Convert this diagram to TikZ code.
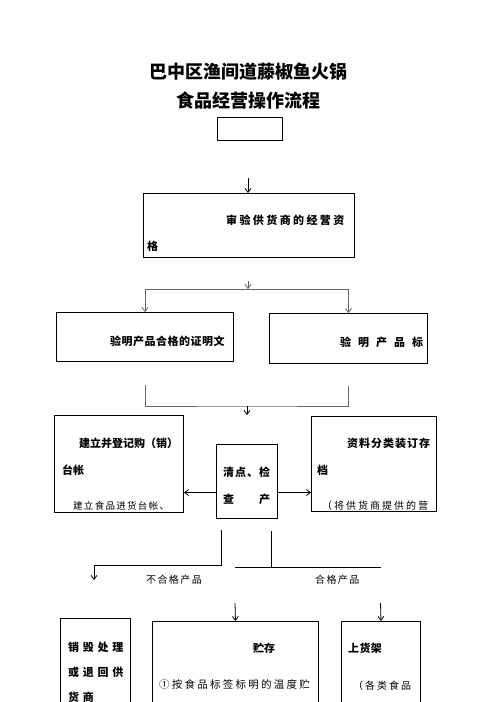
\documentclass[tikz,border=0pt]{standalone}
\usepackage{fontspec}
\usetikzlibrary{arrows.meta}
\newfontfamily\cjk{Noto Sans CJK SC}

\makeatletter
\newcommand\spaced[2]{\def\sp@gap{\hspace{#1pt}}\@tfor\sp@c:=#2\do{\sp@c\sp@gap}}
\makeatother

\tikzset{
  box/.style = {draw, line width = 1pt, inner sep = 0pt, anchor = north west},
  flow/.style = {line width = 0.8pt, -{Straight Barb[length = 4pt, width = 6pt]}},
  link/.style = {line width = 0.8pt},
  soft/.style = {black!60},
  title/.style = {inner sep = 0pt, font = \cjk\bfseries\fontsize{18}{20}\selectfont},
  label/.style = {anchor = west, inner sep = 0pt, font = \cjk\bfseries\fontsize{11}{13}\selectfont},
  note/.style = {anchor = west, inner sep = 0pt, font = \cjk\fontsize{10}{12}\selectfont},
}

\begin{document}
\begin{tikzpicture}[x = 1pt, y = -1pt]
    \useasboundingbox (0, 0) rectangle (496, 702);
    \clip (0, 0) rectangle (496, 702);

    \node[title] (t1) at (248, 72) {巴中区渔间道藤椒鱼火锅};
    \node[title] (t2) at (248, 101) {食品经营操作流程};

    % boxes
    \node[box, minimum width = 65pt, minimum height = 23pt] (b0) at (217, 117) {};
    \node[box, minimum width = 211pt, minimum height = 64pt] (b1) at (143, 193) {};
    \node[box, minimum width = 177pt, minimum height = 49pt] (b2l) at (56, 312) {};
    \node[box, minimum width = 158pt, minimum height = 50pt] (b2r) at (269, 313) {};
    \node[box, minimum width = 129pt, minimum height = 97pt] (b3l) at (54, 415) {};
    \node[box, minimum width = 61pt, minimum height = 74pt] (b3c) at (216, 444) {};
    \node[box, minimum width = 125pt, minimum height = 95pt] (b3r) at (311, 416) {};
    \node[box, minimum width = 70pt, minimum height = 120pt] (b4l) at (60, 618) {};
    \node[box, minimum width = 166pt, minimum height = 120pt] (b4c) at (152, 621) {};
    \node[box, minimum width = 79pt, minimum height = 120pt] (b4r) at (341, 621) {};

    % texts
    \node[label] (l1a) at (226, 220) {\spaced{2.4}{审验供货商的经营资}};
    \node[label] (l1b) at (147, 246) {格};
    \node[label] (l2l) at (110, 341) {\spaced{0.5}{验明产品合格的证明文}};
    \node[label] (l2r) at (340, 342) {\spaced{7}{验明产品标}};
    \node[label] (l3la) at (79, 443) {建立并登记购（销）};
    \node[label] (l3lb) at (62, 470) {台帐};
    \node[note, font = \cjk\fontsize{9.5}{11}\selectfont] (n3l) at (73, 506) {\spaced{1.3}{建立食品进货台帐、}};
    \node[label] (l3ca) at (223, 472) {\spaced{1}{清点、检}};
    \node[label] (l3cb) at (223, 499) {\spaced{1}{查　　产}};
    \node[label] (l3ra) at (347, 443) {\spaced{1}{资料分类装订存}};
    \node[label] (l3rb) at (317, 470) {档};
    \node[note] (n3r) at (322, 506) {\spaced{2}{（将供货商提供的营}};
    \node[note] (bad) at (146, 580) {\spaced{1.4}{不合格产品}};
    \node[note] (good) at (315, 580) {\spaced{1.4}{合格产品}};
    \node[label] (l4la) at (68, 647) {\spaced{3.7}{销毁处理}};
    \node[label] (l4lb) at (68, 672) {\spaced{3.7}{或退回供}};
    \node[label] (l4lc) at (68, 697) {\spaced{3.7}{货商}};
    \node[label] (l4ca) at (253, 648) {贮存};
    \node[note, font = \cjk\fontsize{10.5}{12}\selectfont] (n4c) at (159, 685) {\spaced{2.25}{①按食品标签标明的温度贮}};
    \node[label] (l4ra) at (348, 648) {\spaced{0.3}{上货架}};
    \node[note] (n4r) at (353, 686) {\spaced{2}{（各类食品}};

    % connectors
    \coordinate (s1) at (248, 178);
    \draw[flow] (s1) -- (s1 |- b1.north);

    \coordinate (s2) at (248, 281);
    \coordinate (j2) at (248, 289);
    \draw[flow, soft] (s2) -- (j2);
    \draw[flow, soft] (j2) -| (b2l.north);
    \draw[flow, soft] (j2) -| (b2r.north);

    \coordinate (c3l) at (145, 385);
    \coordinate (c3r) at (348, 386);
    \coordinate (j3) at (247, 406);
    \draw[link, soft] (c3l) |- (j3) -| (c3r);
    \draw[flow] (j3) -- (j3 |- b3l.north);

    \draw[flow] ([yshift = -11pt]b3c.west) coordinate (m3l) -- (b3l.east |- m3l);
    \draw[flow] ([yshift = -11pt]b3c.east) coordinate (m3r) -- (b3r.west |- m3r);

    \coordinate (s4l) at (221, 530);
    \coordinate (k4l) at (94, 565);
    \coordinate (e4l) at (94, 580);
    \draw[link] (s4l) |- (k4l);
    \draw[flow] (k4l) -- (e4l);

    \coordinate (s4r) at (271, 531);
    \coordinate (h4a) at (235, 567);
    \coordinate (h4b) at (381, 567);
    \draw[link] (s4r) -- (s4r |- h4a);
    \draw[link] (h4a) -- (h4b);

    \coordinate (a4c) at (235, 603);
    \coordinate (a4r) at (380.5, 603);
    \draw[flow] (a4c) -- (b4c.north);
    \draw[flow] (a4r) -- (b4r.north);
\end{tikzpicture}
\end{document}
